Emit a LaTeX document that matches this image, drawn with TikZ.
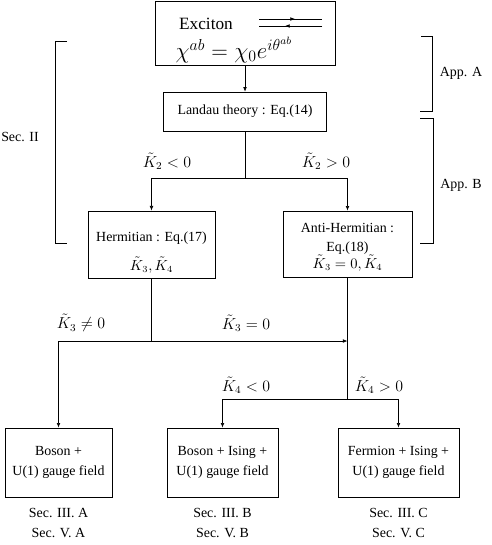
\documentclass[tikz,border=0pt]{standalone}
\usepackage{amsmath,amssymb}
\usepackage{fontspec}
\setmainfont{Liberation Serif}
\usetikzlibrary{arrows.meta,positioning}

\begin{document}
\begin{tikzpicture}[x=0.0265cm,y=-0.0265cm,font=\fontsize{10.5}{14}\selectfont,line width=0.5pt,
  box/.style={draw,align=center,inner sep=2pt},
  cond/.style={font=\fontsize{11.5}{14}\selectfont},
  arr/.style={-{Latex[length=3.5pt,width=2.8pt]}}]
\useasboundingbox (0,0) rectangle (491,545);
% order parameter and Landau theory
\node[box,minimum width=4.77cm,minimum height=1.70cm] (exc) at (245,33) {};
\node[font=\fontsize{13}{15}\selectfont] (exclab) at (206,24) {Exciton};
\node[font=\fontsize{16.5}{19}\selectfont] (orderp) at (234,50) {$\chi^{ab}=\chi_0 e^{i\theta^{ab}}$};
\draw (259,19) -- (322,19);
\draw[arr] (259,19) -- (295,19);
\draw (322,26) -- (259,26);
\draw[arr] (322,26) -- (285,26);
\node[box,minimum width=4.32cm,minimum height=1.03cm] (landau) at (245,111.5) {Landau theory : Eq.(14)};
\draw[arr] (exc) -- (landau);
% K2 branch
\node[box,minimum width=3.37cm,minimum height=1.78cm] (herm) at (151.5,244.5) {\rule{0pt}{19pt}Hermitian : Eq.(17)\\[8pt]$\tilde{K}_3,\tilde{K}_4$};
\node[box,minimum width=3.42cm,minimum height=1.75cm] (anti) at (347.5,244) {\rule{0pt}{12pt}Anti-Hermitian :\\Eq.(18)\\[-1pt]$\tilde{K}_3=0,\tilde{K}_4$};
\coordinate (split) at (245,178);
\draw (landau) -- (split);
\draw[arr] (split) -| (herm);
\draw[arr] (split) -| (anti);
\node[cond] (k2neg) at (167,161) {$\tilde{K}_2<0$};
\node[cond] (k2pos) at (326,161) {$\tilde{K}_2>0$};
% K3 and K4 branches
\foreach \n/\x/\w/\txt/\sub in {b1/58.5/2.84/{Boson +}/A,b2/222.5/2.94/{Boson + Ising +}/B,b3/398.5/3.21/{Fermion + Ising +}/C}{
  \node[box,minimum width=\w cm,minimum height=1.83cm] (\n) at (\x,462.5) {\txt\\[1pt]U(1) gauge field};
  \node[align=center] (sec\n) at (\x,523) {Sec. III. \sub\\[1pt]Sec. V. \sub};
}
\coordinate (j2) at (151.5,341);
\coordinate (j3) at (347.5,341);
\coordinate (j4) at (347.5,399);
\draw (herm) -- (j2);
\draw[arr] (j2) -| (b1);
\draw[arr] (j2) -- (j3);
\draw (anti) -- (j4);
\draw[arr] (j4) -| (b2);
\draw[arr] (j4) -| (b3);
\node[cond] (k3neq) at (81,323) {$\tilde{K}_3\neq 0$};
\node[cond] (k3eq) at (246,323) {$\tilde{K}_3=0$};
\node[cond] (k4neg) at (246,385) {$\tilde{K}_4<0$};
\node[cond] (k4pos) at (379,385) {$\tilde{K}_4>0$};
% section brackets
\draw (67,41) -- (55,41) -- (55,243) -- (67,243);
\node (secII) at (20,137) {Sec. II};
\draw (421,36) -- (432,36) -- (432,111) -- (420,111);
\node (appA) at (461,73) {App. A};
\draw (420,118) -- (433,118) -- (433,243) -- (420,243);
\node (appB) at (461,185) {App. B};
\end{tikzpicture}
\end{document}
